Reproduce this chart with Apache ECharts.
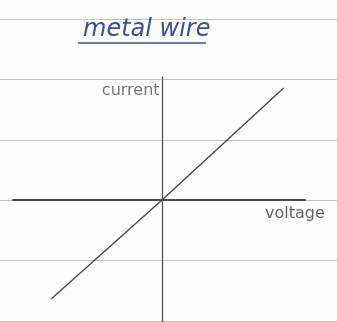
<!DOCTYPE html>
<html>
<head>
<meta charset="utf-8">
<style>
  html, body { margin: 0; padding: 0; background: #fdfdfd; }
  #chart { width: 337px; height: 322px; }
</style>
<script src="https://cdn.jsdelivr.net/npm/echarts@6/dist/echarts.min.js"></script>
</head>
<body>
<div id="chart"></div>
<script>
// Sketch of the I–V characteristic of a metal wire: a straight line through the origin.
const titleText = 'metal wire';
const xAxisName = 'voltage';
const yAxisName = 'current';

// Ohmic line drawn through the origin (voltage, current)
const voltage = [-0.78, 0, 0.85];
const current = [-0.81, 0, 0.91];

// Ruled paper lines (one per ruling)
const paperRows = [-2, -1, 0, 1, 2, 3];

const chart = echarts.init(document.getElementById('chart'));

chart.setOption({
  backgroundColor: '#fdfdfd',
  animation: false,
  title: {
    text: titleText,
    left: 78,
    top: 13,
    textStyle: {
      fontFamily: 'DejaVu Sans',
      fontSize: 24,
      fontWeight: 'normal',
      fontStyle: 'italic',
      color: '#3c4f9c'
    }
  },
  graphic: [{
    type: 'line',
    shape: { x1: 78, y1: 43, x2: 206, y2: 43 },
    style: { stroke: '#3c4f9c', lineWidth: 1.6 }
  }],
  grid: [
    // ruled paper
    { left: 0, right: 0, top: 19, bottom: 1 },
    // the sketched axes
    { left: 13, right: 32, top: 77, bottom: 0 }
  ],
  xAxis: [
    { gridIndex: 0, type: 'value', min: 0, max: 1, show: false },
    {
      gridIndex: 1, type: 'value', min: -1.05, max: 1,
      axisLine: { onZero: true, lineStyle: { color: '#4a4a4a', width: 2 } },
      axisTick: { show: false },
      axisLabel: { show: false },
      splitLine: { show: false },
      name: xAxisName,
      nameLocation: 'end',
      nameGap: -40,
      nameTextStyle: {
        fontFamily: 'DejaVu Sans',
        fontSize: 16,
        color: '#666',
        verticalAlign: 'top',
        padding: [6, 0, 0, 0]
      }
    }
  ],
  yAxis: [
    {
      gridIndex: 0, type: 'value', min: paperRows[0], max: paperRows[paperRows.length - 1], interval: 1,
      axisLine: { show: false },
      axisTick: { show: false },
      axisLabel: { show: false },
      splitLine: { show: true, lineStyle: { color: '#c4c4c4', width: 1.2 } }
    },
    {
      gridIndex: 1, type: 'value', min: -1, max: 1,
      axisLine: { onZero: true, lineStyle: { color: '#555', width: 1.3 } },
      axisTick: { show: false },
      axisLabel: { show: false },
      splitLine: { show: false },
      name: yAxisName,
      nameLocation: 'end',
      nameGap: -14,
      nameTextStyle: {
        fontFamily: 'DejaVu Sans',
        fontSize: 16,
        color: '#777',
        align: 'right',
        verticalAlign: 'middle',
        padding: [0, 3, 0, 0]
      }
    }
  ],
  series: [
    {
      type: 'line',
      xAxisIndex: 1,
      yAxisIndex: 1,
      data: voltage.map((v, i) => [v, current[i]]),
      symbol: 'none',
      lineStyle: { color: '#4a4a4a', width: 1.4 },
      z: 3
    }
  ]
});
</script>
</body>
</html>
